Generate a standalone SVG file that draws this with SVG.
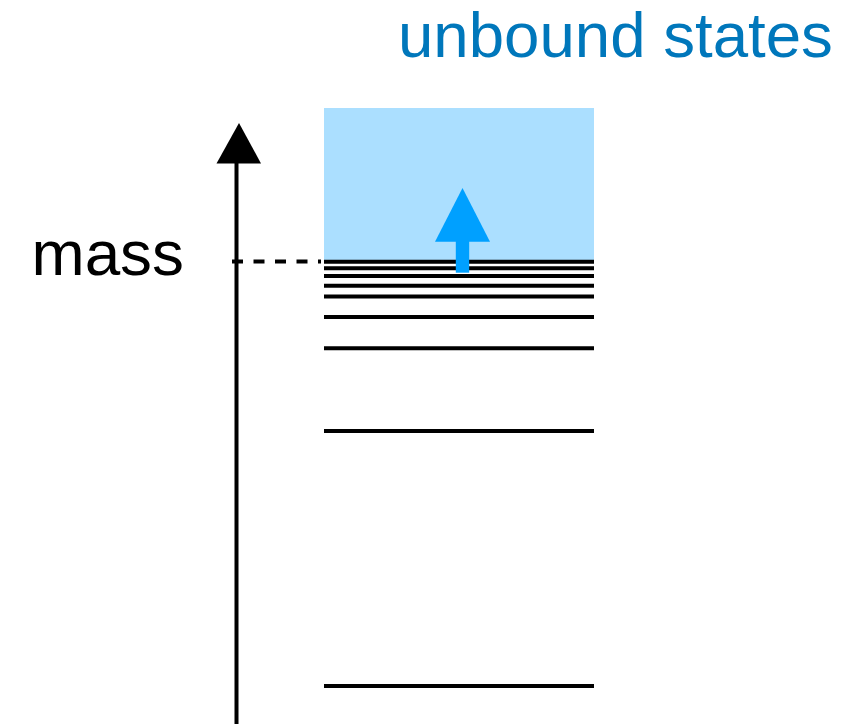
<svg xmlns="http://www.w3.org/2000/svg" width="859" height="724" viewBox="0 0 859 724">
  <style>
    .label { font-family: "Liberation Sans", Arial, Helvetica, sans-serif; }
    .level { stroke: #000; stroke-width: 4; fill: none; }
  </style>
  <rect width="859" height="724" fill="#fff"/>

  <!-- continuum of unbound states -->
  <g id="continuum">
    <rect x="324" y="108" width="270" height="152" fill="#abdfff"/>
  </g>
  <text id="title" class="label" x="398" y="56.5" font-size="63.6" fill="#0077bb">unbound states</text>

  <!-- mass axis -->
  <g id="axis">
    <line x1="236.5" y1="160" x2="236.5" y2="724" stroke="#000" stroke-width="4"/>
    <polygon points="216.5,163.5 261,163.5 239,123" fill="#000"/>
  </g>
  <text id="mass-label" class="label" x="31.5" y="275" font-size="63.8" fill="#000">mass</text>

  <!-- bound-state energy levels -->
  <g id="levels">
    <line class="level" x1="324" y1="261.7" x2="594" y2="261.7"/>
    <line class="level" x1="324" y1="268.3" x2="594" y2="268.3"/>
    <line class="level" x1="324" y1="276" x2="594" y2="276"/>
    <line class="level" x1="324" y1="285.8" x2="594" y2="285.8"/>
    <line class="level" x1="324" y1="296.6" x2="594" y2="296.6"/>
    <line class="level" x1="324" y1="317" x2="594" y2="317"/>
    <line class="level" x1="324" y1="348.3" x2="594" y2="348.3"/>
    <line class="level" x1="324" y1="431" x2="594" y2="431"/>
    <line class="level" x1="324" y1="686" x2="594" y2="686"/>
  </g>

  <!-- threshold marker and excitation arrow -->
  <g id="connectors">
    <line x1="232" y1="261.5" x2="321" y2="261.5" stroke="#000" stroke-width="4" stroke-dasharray="11 10.5"/>
    <g id="excitation-arrow" fill="#00a0ff">
      <rect x="455.8" y="238" width="13.4" height="34.7"/>
      <polygon points="435,241.7 490,241.7 462.5,188"/>
    </g>
  </g>
</svg>
